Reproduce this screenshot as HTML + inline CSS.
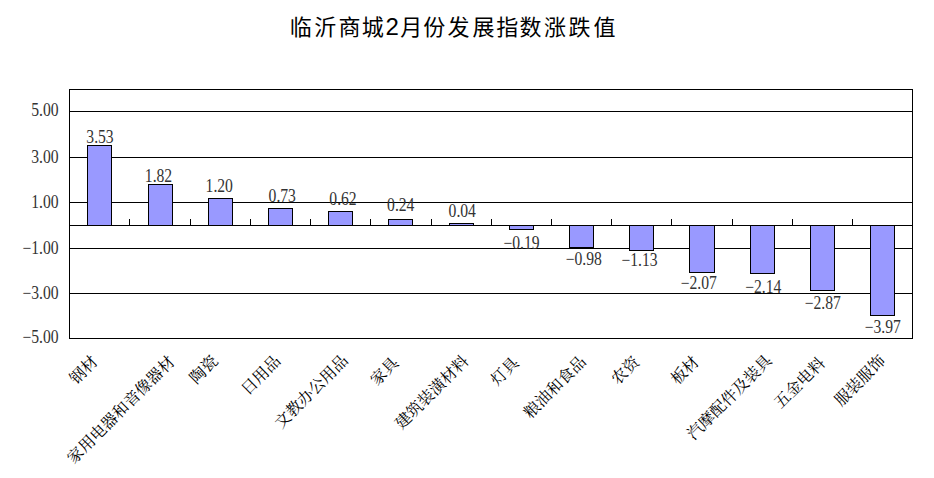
<!DOCTYPE html><html><head><meta charset="utf-8"><title>临沂商城2月份发展指数涨跌值</title><style>
html,body{margin:0;padding:0;background:#fff;}body{width:934px;height:478px;overflow:hidden;}
svg{display:block;}
.t{font-family:"Liberation Sans","Noto Sans CJK SC",sans-serif;font-size:22px;font-weight:400;letter-spacing:0px;fill:#000;}
.v{font-family:"Liberation Serif",serif;font-size:17.8px;font-weight:400;fill:#333;}
.c{font-family:"Liberation Serif","Noto Serif CJK SC",serif;font-size:16px;font-weight:400;fill:#000;}
</style></head><body>
<svg width="934" height="478" viewBox="0 0 934 478" shape-rendering="crispEdges">
<rect x="0" y="0" width="934" height="478" fill="#fff"/>
<text class="t" y="35"><tspan x="289.8">临</tspan><tspan x="314.3">沂</tspan><tspan x="338.5">商</tspan><tspan x="361.8">城</tspan><tspan x="385.6" style="font-size:24px">2</tspan><tspan x="400.3">月</tspan><tspan x="423.2">份</tspan><tspan x="447.6">发</tspan><tspan x="472.6">展</tspan><tspan x="496.3">指</tspan><tspan x="519.5">数</tspan><tspan x="544.0">涨</tspan><tspan x="568.4">跌</tspan><tspan x="593.5">值</tspan></text>
<rect x="69" y="111" width="844" height="1" fill="#000"/>
<rect x="69" y="157" width="844" height="1" fill="#000"/>
<rect x="69" y="202" width="844" height="1" fill="#000"/>
<rect x="69" y="248" width="844" height="1" fill="#000"/>
<rect x="69" y="293" width="844" height="1" fill="#000"/>
<rect x="69" y="89" width="844" height="1" fill="#000"/>
<rect x="69" y="338" width="844" height="1" fill="#000"/>
<rect x="69" y="89" width="1" height="250" fill="#000"/>
<rect x="912" y="89" width="1" height="250" fill="#000"/>
<rect x="87" y="145" width="25" height="81" fill="#000"/>
<rect x="88" y="146" width="23" height="79" fill="#9999FF"/>
<rect x="148" y="184" width="25" height="42" fill="#000"/>
<rect x="149" y="185" width="23" height="40" fill="#9999FF"/>
<rect x="208" y="198" width="25" height="28" fill="#000"/>
<rect x="209" y="199" width="23" height="26" fill="#9999FF"/>
<rect x="268" y="208" width="25" height="18" fill="#000"/>
<rect x="269" y="209" width="23" height="16" fill="#9999FF"/>
<rect x="328" y="211" width="25" height="15" fill="#000"/>
<rect x="329" y="212" width="23" height="13" fill="#9999FF"/>
<rect x="388" y="219" width="25" height="7" fill="#000"/>
<rect x="389" y="220" width="23" height="5" fill="#9999FF"/>
<rect x="449" y="223" width="25" height="3" fill="#000"/>
<rect x="450" y="224" width="23" height="1" fill="#9999FF"/>
<rect x="509" y="225" width="25" height="5" fill="#000"/>
<rect x="510" y="226" width="23" height="3" fill="#9999FF"/>
<rect x="569" y="225" width="25" height="23" fill="#000"/>
<rect x="570" y="226" width="23" height="21" fill="#9999FF"/>
<rect x="629" y="225" width="25" height="26" fill="#000"/>
<rect x="630" y="226" width="23" height="24" fill="#9999FF"/>
<rect x="689" y="225" width="26" height="48" fill="#000"/>
<rect x="690" y="226" width="24" height="46" fill="#9999FF"/>
<rect x="750" y="225" width="25" height="49" fill="#000"/>
<rect x="751" y="226" width="23" height="47" fill="#9999FF"/>
<rect x="810" y="225" width="25" height="66" fill="#000"/>
<rect x="811" y="226" width="23" height="64" fill="#9999FF"/>
<rect x="870" y="225" width="25" height="91" fill="#000"/>
<rect x="871" y="226" width="23" height="89" fill="#9999FF"/>
<rect x="69" y="225" width="844" height="1" fill="#000"/>
<rect x="129" y="219" width="1" height="6" fill="#000"/>
<rect x="190" y="219" width="1" height="6" fill="#000"/>
<rect x="250" y="219" width="1" height="6" fill="#000"/>
<rect x="310" y="219" width="1" height="6" fill="#000"/>
<rect x="370" y="219" width="1" height="6" fill="#000"/>
<rect x="431" y="219" width="1" height="6" fill="#000"/>
<rect x="491" y="219" width="1" height="6" fill="#000"/>
<rect x="551" y="219" width="1" height="6" fill="#000"/>
<rect x="611" y="219" width="1" height="6" fill="#000"/>
<rect x="671" y="219" width="1" height="6" fill="#000"/>
<rect x="732" y="219" width="1" height="6" fill="#000"/>
<rect x="792" y="219" width="1" height="6" fill="#000"/>
<rect x="852" y="219" width="1" height="6" fill="#000"/>
<text class="v" transform="translate(100.00,143.00) scale(0.88,1)" text-anchor="middle">3.53</text>
<text class="v" transform="translate(158.50,181.80) scale(0.88,1)" text-anchor="middle">1.82</text>
<text class="v" transform="translate(219.25,192.48) scale(0.88,1)" text-anchor="middle">1.20</text>
<text class="v" transform="translate(282.25,201.80) scale(0.88,1)" text-anchor="middle">0.73</text>
<text class="v" transform="translate(343.00,205.30) scale(0.88,1)" text-anchor="middle">0.62</text>
<text class="v" transform="translate(400.75,211.30) scale(0.88,1)" text-anchor="middle">0.24</text>
<text class="v" transform="translate(462.25,216.90) scale(0.88,1)" text-anchor="middle">0.04</text>
<text class="v" transform="translate(521.50,248.60) scale(0.88,1)" text-anchor="middle">−0.19</text>
<text class="v" transform="translate(583.75,265.00) scale(0.88,1)" text-anchor="middle">−0.98</text>
<text class="v" transform="translate(639.50,266.20) scale(0.88,1)" text-anchor="middle">−1.13</text>
<text class="v" transform="translate(698.75,289.20) scale(0.88,1)" text-anchor="middle">−2.07</text>
<text class="v" transform="translate(763.25,292.50) scale(0.88,1)" text-anchor="middle">−2.14</text>
<text class="v" transform="translate(822.75,309.20) scale(0.88,1)" text-anchor="middle">−2.87</text>
<text class="v" transform="translate(882.75,332.50) scale(0.88,1)" text-anchor="middle">−3.97</text>
<text class="v yl" transform="translate(58.60,116.00) scale(0.88,1)" text-anchor="end">5.00</text>
<text class="v yl" transform="translate(58.60,162.90) scale(0.88,1)" text-anchor="end">3.00</text>
<text class="v yl" transform="translate(58.60,207.70) scale(0.88,1)" text-anchor="end">1.00</text>
<text class="v yl" transform="translate(58.60,253.70) scale(0.88,1)" text-anchor="end">−1.00</text>
<text class="v yl" transform="translate(58.60,298.90) scale(0.88,1)" text-anchor="end">−3.00</text>
<text class="v yl" transform="translate(58.60,343.20) scale(0.88,1)" text-anchor="end">−5.00</text>
<text class="c" transform="translate(98.9,362.5) rotate(-45)" text-anchor="end">钢材</text>
<text class="c" transform="translate(175.7,362.8) rotate(-45)" text-anchor="end">家用电器和音像器材</text>
<text class="c" transform="translate(218.8,362.0) rotate(-45)" text-anchor="end">陶瓷</text>
<text class="c" transform="translate(281.6,362.0) rotate(-45)" text-anchor="end">日用品</text>
<text class="c" transform="translate(349.1,361.5) rotate(-45)" text-anchor="end">文教办公用品</text>
<text class="c" transform="translate(399.6,363.9) rotate(-45)" text-anchor="end">家具</text>
<text class="c" transform="translate(469.6,362.2) rotate(-45)" text-anchor="end">建筑装潢材料</text>
<text class="c" transform="translate(519.9,363.9) rotate(-45)" text-anchor="end">灯具</text>
<text class="c" transform="translate(587.1,362.6) rotate(-45)" text-anchor="end">粮油和食品</text>
<text class="c" transform="translate(640.5,362.9) rotate(-45)" text-anchor="end">农资</text>
<text class="c" transform="translate(700.1,362.9) rotate(-45)" text-anchor="end">板材</text>
<text class="c" transform="translate(772.9,361.5) rotate(-45)" text-anchor="end">汽摩配件及装具</text>
<text class="c" transform="translate(826.0,364.1) rotate(-45)" text-anchor="end">五金电料</text>
<text class="c" transform="translate(886.4,361.8) rotate(-45)" text-anchor="end">服装服饰</text>
</svg></body></html>
